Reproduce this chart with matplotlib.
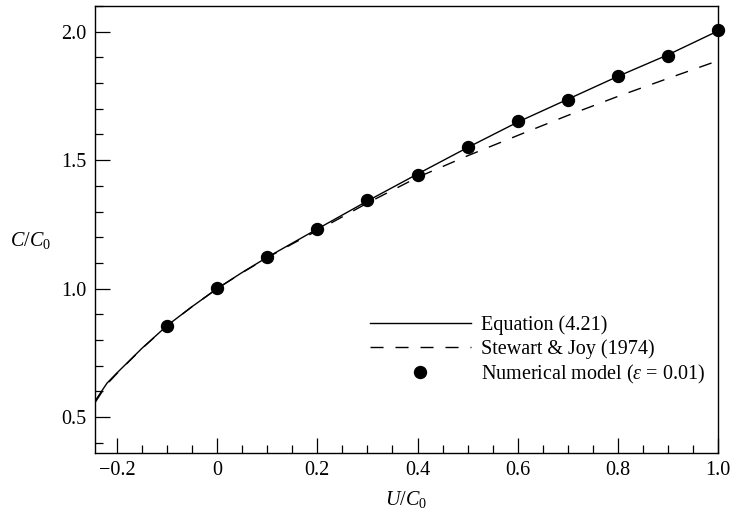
import numpy as np
import matplotlib
matplotlib.use("Agg")
import matplotlib.pyplot as plt
from matplotlib.ticker import MultipleLocator, FixedLocator, FixedFormatter

plt.rcParams['font.family'] = ['Liberation Serif', 'DejaVu Serif']
plt.rcParams['mathtext.fontset'] = 'custom'
plt.rcParams['mathtext.rm'] = 'Liberation Serif'
plt.rcParams['mathtext.it'] = 'Liberation Serif:italic'

# Equation (4.21)
eq_u = [-0.244, -0.22, -0.2, -0.15, -0.1, -0.05, 0.0, 0.05, 0.1, 0.15, 0.2, 0.3,
        0.4, 0.5, 0.6, 0.7, 0.8, 0.9, 1.0]
eq_c = [0.562, 0.632, 0.672, 0.768, 0.856, 0.930, 1.0, 1.063, 1.122, 1.177, 1.232,
        1.341, 1.446, 1.549, 1.648, 1.737, 1.826, 1.910, 2.003]

# Stewart & Joy (1974)
sj_u = [-0.244, -0.22, -0.2, -0.15, -0.1, -0.05, 0.0, 0.05, 0.1, 0.15, 0.2, 0.3,
        0.4, 0.5, 0.6, 0.7, 0.8, 0.9, 1.0]
sj_c = [0.556, 0.628, 0.670, 0.767, 0.855, 0.930, 1.0, 1.062, 1.120, 1.174, 1.226,
        1.333, 1.433, 1.517, 1.596, 1.674, 1.748, 1.818, 1.887]

# Numerical model (eps = 0.01)
num_u = [-0.1, 0.0, 0.1, 0.2, 0.3, 0.4, 0.5, 0.6, 0.7, 0.8, 0.9, 1.0]
num_c = [0.855, 1.003, 1.123, 1.231, 1.344, 1.442, 1.550, 1.651, 1.735, 1.828, 1.906, 2.007]

xtick_vals = [-0.2, 0.0, 0.2, 0.4, 0.6, 0.8, 1.0]
xtick_labels = ['\u22120.2', '0', '0.2', '0.4', '0.6', '0.8', '1.0']
ytick_vals = [0.5, 1.0, 1.5, 2.0]
ytick_labels = ['0.5', '1.0', '1.5', '2.0']

fig = plt.figure(figsize=(7.31, 5.13), dpi=100)
ax = fig.add_axes([95 / 731, 1 - 453 / 513, 623 / 731, 447 / 513])

ax.plot(eq_u, eq_c, color='black', lw=1.0, label='Equation (4.21)')
ax.plot(sj_u, sj_c, color='black', lw=1.0, linestyle=(0, (9.4, 8.6)),
        label='Stewart & Joy (1974)')
ax.plot(num_u, num_c, 'o', color='black', markersize=8.6, clip_on=False,
        label=r'Numerical model ($\varepsilon$ = 0.01)')

ax.set_xlim(-0.244, 1.0)
ax.set_ylim(0.36, 2.10)

ax.xaxis.set_major_locator(FixedLocator(xtick_vals))
ax.xaxis.set_major_formatter(FixedFormatter(xtick_labels))
ax.xaxis.set_minor_locator(MultipleLocator(0.05))
ax.yaxis.set_major_locator(FixedLocator(ytick_vals))
ax.yaxis.set_major_formatter(FixedFormatter(ytick_labels))
ax.yaxis.set_minor_locator(MultipleLocator(0.1))

ax.tick_params(which='both', direction='in', top=False, right=False, width=0.9,
               labelsize=14.5)
ax.tick_params(which='major', length=10.8)
ax.tick_params(which='minor', length=6)
ax.tick_params(axis='x', pad=6)
ax.tick_params(axis='y', pad=6)
for s in ax.spines.values():
    s.set_linewidth(1.0)

ax.set_xlabel(r'$U/C_0$', fontsize=14.5, va='center')
ax.xaxis.set_label_coords(0.499, -0.103)
ax.set_ylabel(r'$C/C_0$', fontsize=14.5, rotation=0, ha='center', va='center')
ax.yaxis.set_label_coords(-0.104, 0.475)

ax.legend(loc='lower right', bbox_to_anchor=(0.979, 0.15), frameon=False,
          fontsize=14.5, handlelength=4.97, handletextpad=0.5, labelspacing=0.2,
          borderpad=0, borderaxespad=0)

fig.savefig('out.png', dpi=100)
